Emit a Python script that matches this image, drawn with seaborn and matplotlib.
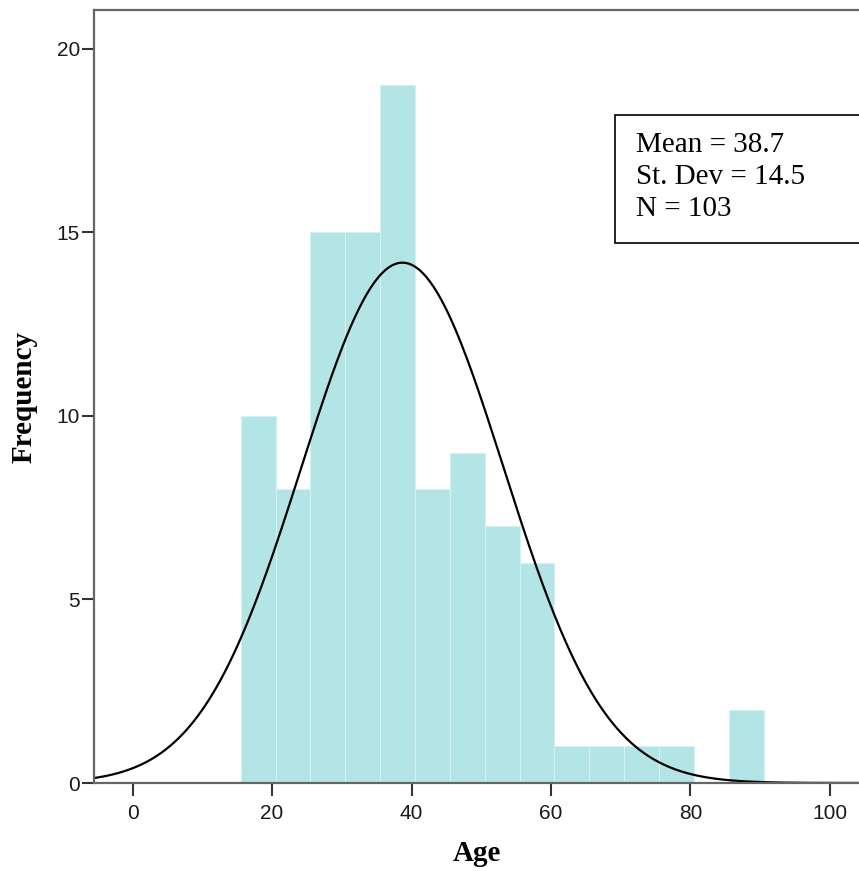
import matplotlib
matplotlib.use("Agg")
import matplotlib.pyplot as plt
import matplotlib.patches as mpatches
import seaborn as sns
import numpy as np

# Données (histogramme de l'âge, classes de 5 ans)
bin_edges = [15.5, 20.5, 25.5, 30.5, 35.5, 40.5, 45.5, 50.5, 55.5, 60.5,
             65.5, 70.5, 75.5, 80.5, 85.5, 90.5]
bin_counts = [10, 8, 15, 15, 19, 8, 9, 7, 6, 1, 1, 1, 1, 0, 2]
mean_age = 38.7
sd_age = 14.5
n_obs = 103
x_ticks = [0, 20, 40, 60, 80, 100]
y_ticks = [0, 5, 10, 15, 20]

sns.set_style("ticks")
plt.rcParams['font.family'] = ['Liberation Sans', 'DejaVu Sans']
plt.rcParams['text.color'] = 'black'
plt.rcParams['axes.labelcolor'] = 'black'

fig = plt.figure(figsize=(8.59, 8.71), dpi=100)
W, H = 859, 871
ax = fig.add_axes([94 / W, (H - 783) / H, (W - 94) / W, (783 - 10) / H])

centres = [(a + b) / 2 for a, b in zip(bin_edges[:-1], bin_edges[1:])]
sns.histplot(x=centres, weights=bin_counts, bins=bin_edges, ax=ax,
             color='#b3e5e6', alpha=1, edgecolor='#d6f1f1', linewidth=0.8)

# Courbe normale ajustée
largeur = bin_edges[1] - bin_edges[0]
xs = np.linspace(-6, 105, 400)
ys = n_obs * largeur / (sd_age * np.sqrt(2 * np.pi)) * np.exp(-0.5 * ((xs - mean_age) / sd_age) ** 2)
ax.plot(xs, ys, color='black', linewidth=1.6)

ax.set_xlim(-5.55, 104.2)
ax.set_ylim(0, 21.05)
ax.set_xticks(x_ticks)
ax.set_yticks(y_ticks)
ax.tick_params(axis='both', labelsize=15, colors='#333333', labelcolor='#1a1a1a',
               length=9, width=1.5)
ax.tick_params(axis='x', pad=6)
ax.tick_params(axis='y', pad=1)

for side in ['left', 'bottom', 'top']:
    ax.spines[side].set_color('#666666')
    ax.spines[side].set_linewidth(1.6)
ax.spines['right'].set_visible(False)

ax.set_xlabel('Age', family='Liberation Serif', fontweight='bold', fontsize=21, labelpad=12)
ax.set_ylabel('Frequency', family='Liberation Serif', fontweight='bold', fontsize=21, labelpad=14)

# Encadré des statistiques
boite = mpatches.Rectangle((615 / W, (H - 243) / H), 0.5, 128 / H, transform=fig.transFigure,
                           facecolor='white', edgecolor='black', linewidth=1.2, zorder=5)
fig.patches.append(boite)
lignes = [f'Mean = {mean_age}', f'St. Dev = {sd_age}', f'N = {n_obs}']
for i, t in enumerate(lignes):
    fig.text(636 / W, (H - (145 + 32 * i)) / H, t, family='Liberation Serif', fontsize=21,
             va='center', ha='left', color='black', zorder=6)

fig.savefig('out.png', dpi=100)
